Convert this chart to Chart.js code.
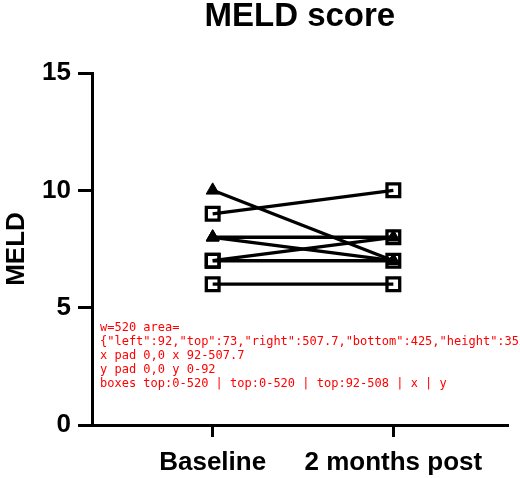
<!DOCTYPE html>
<html>
<head>
<meta charset="utf-8">
<title>MELD score</title>
<script src="https://cdn.jsdelivr.net/npm/chart.js@4.4.1/dist/chart.umd.min.js"></script>
<style>
  html, body { margin: 0; padding: 0; background: #fff; overflow: hidden; }
  #wrap { width: 520px; height: 478px; position: relative; }
  #meld-chart { display: block; }
  #dbg { position: absolute; left: 100px; top: 320px; font: 12px monospace; color: red; }
</style>
</head>
<body>
<div id="wrap"><canvas id="meld-chart" width="520" height="478"></canvas><div id="dbg"></div></div>
<script>
const categories = ["Baseline", "2 months post"];
const yTicks = [0, 5, 10, 15];
const squareBaseline = [9, 7, 7, 6];
const squarePost = [10, 8, 7, 6];
const triangleBaseline = [10, 8, 8];
const trianglePost = [7, 8, 7];

const FONT = "'Liberation Sans', Arial, Helvetica, sans-serif";

function pairDatasets(before, after, style) {
  return before.map((b, i) => ({
    data: [
      { x: 0, y: b },
      { x: 1, y: after[i] },
    ],
    showLine: true,
    borderColor: "#000",
    borderWidth: 3.3,
    pointStyle: style,
    pointRadius: style === "rect" ? 9 : 7.5,
    pointBorderWidth: style === "rect" ? 3.3 : 1,
    pointBorderColor: "#000",
    pointBackgroundColor: style === "rect" ? "rgba(0,0,0,0)" : "#000",
  }));
}

const datasets = [
  ...pairDatasets(squareBaseline, squarePost, "rect"),
  ...pairDatasets(triangleBaseline, trianglePost, "triangle"),
];

const dbg = {
  id: "dbg",
  afterLayout(chart) {
    const x = chart.scales.x, y = chart.scales.y;
    document.getElementById("dbg").innerHTML =
      "w=" + chart.width + " area=" + JSON.stringify(chart.chartArea) +
      "<br>x pad " + x.paddingLeft + "," + x.paddingRight + " x " + x.left + "-" + x.right +
      "<br>y pad " + y.paddingLeft + "," + y.paddingRight + " y " + y.left + "-" + y.right +
      "<br>boxes " + chart.boxes.map((b) => b.id || b.position + ":" + Math.round(b.left) + "-" + Math.round(b.right)).join(" | ");
  },
};

new Chart(document.getElementById("meld-chart"), {
  type: "scatter",
  data: { datasets },
  plugins: [dbg],
  options: {
    responsive: false,
    animation: false,
    layout: { padding: { left: 0, right: 0, top: 0, bottom: 0 } },
    plugins: {
      legend: { display: false },
      tooltip: { enabled: false },
      title: {
        display: true,
        text: "MELD score",
        fullSize: false,
        color: "#000",
        font: { family: FONT, size: 33, weight: "bold", lineHeight: 1 },
        padding: { top: 0, bottom: 40 },
      },
    },
    scales: {
      x: {
        type: "linear",
        min: -0.668,
        max: 1.633,
        afterBuildTicks: (scale) => {
          scale.ticks = categories.map((_, i) => ({ value: i }));
        },
        afterFit: (scale) => {
          scale.height = 53;
          scale.paddingLeft = 0;
          scale.paddingRight = 0;
        },
        border: { display: true, color: "#000", width: 3 },
        grid: { drawOnChartArea: false, drawTicks: true, tickLength: 12, lineWidth: 3, color: "#000" },
        ticks: {
          color: "#000",
          padding: 10,
          maxRotation: 0,
          font: { family: FONT, size: 26, weight: "bold" },
          callback: (v) => categories[v] ?? "",
        },
      },
      y: {
        min: 0,
        max: 15,
        afterBuildTicks: (scale) => {
          scale.ticks = yTicks.map((v) => ({ value: v }));
        },
        afterFit: (scale) => {
          scale.width = 92;
        },
        border: { display: true, color: "#000", width: 3 },
        grid: { drawOnChartArea: false, drawTicks: true, tickLength: 14, lineWidth: 3, color: "#000" },
        ticks: {
          color: "#000",
          padding: 7,
          font: { family: FONT, size: 26, weight: "bold" },
        },
        title: {
          display: true,
          text: "MELD",
          color: "#000",
          font: { family: FONT, size: 26, weight: "bold" },
          padding: { top: 1, bottom: 13 },
        },
      },
    },
  },
});
</script>
</body>
</html>
